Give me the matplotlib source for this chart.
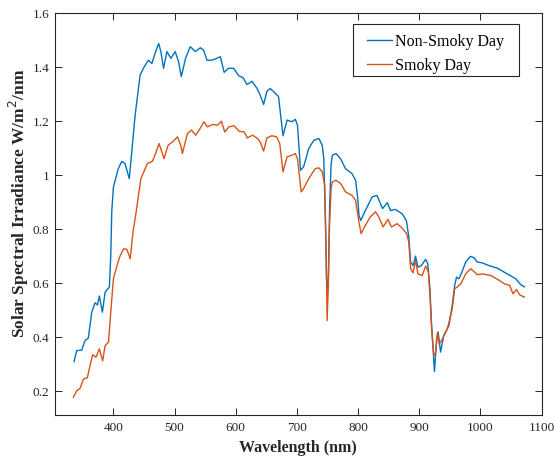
import matplotlib
matplotlib.use('Agg')
from matplotlib import pyplot as plt
from matplotlib.patches import Rectangle

# Non-smoky day
wl_clear = [335.6, 340, 348, 353.6, 359, 364.6, 370, 374, 377, 382, 386.4, 393.4, 395.7, 397.3,
            400, 408, 413.7, 419, 426, 430, 435.5, 443.7, 449, 457, 463, 468, 474, 477.6, 482,
            487.5, 494, 501, 506.5, 511, 518, 525.6, 534, 542, 547.4, 553, 561, 569, 575, 581,
            588, 596.5, 604.7, 612, 618.4, 626.6, 635, 640, 645.6, 651, 656.6, 665, 670, 677.3,
            684, 692, 697.5, 701, 706, 711, 719.4, 727.7, 736, 741.5, 744, 746.5, 748.5, 750,
            751.5, 753.5, 756, 758, 764, 771.5, 779.5, 790, 796, 799.6, 801.5, 804.5, 812, 823,
            831, 840, 848, 853, 861, 872, 879, 883, 886, 890, 894, 898, 903.6, 910.6, 914,
            917.6, 920, 923, 925, 928.5, 931, 935, 940, 948.6, 954, 958, 961, 965, 970, 976,
            984, 989.6, 995, 1003, 1014, 1028, 1044, 1058, 1066, 1072]
irr_clear = [0.308, 0.349, 0.35, 0.386, 0.395, 0.491, 0.526, 0.518, 0.551, 0.491, 0.565, 0.584,
             0.701, 0.863, 0.955, 1.023, 1.05, 1.042, 0.986, 1.085, 1.221, 1.37, 1.395, 1.425,
             1.413, 1.45, 1.487, 1.457, 1.395, 1.457, 1.432, 1.457, 1.42, 1.364, 1.432, 1.475,
             1.457, 1.471, 1.463, 1.425, 1.425, 1.432, 1.438, 1.38, 1.395, 1.395, 1.368, 1.36,
             1.335, 1.347, 1.32, 1.296, 1.261, 1.31, 1.32, 1.302, 1.29, 1.145, 1.203, 1.197,
             1.206, 1.184, 1.017, 1.03, 1.098, 1.128, 1.135, 1.11, 1.06, 0.85, 0.62, 0.55, 0.62,
             0.88, 1.04, 1.073, 1.079, 1.06, 1.023, 1.005, 0.98, 0.912, 0.85, 0.831, 0.868,
             0.918, 0.924, 0.875, 0.897, 0.868, 0.872, 0.856, 0.831, 0.77, 0.677, 0.664, 0.699,
             0.658, 0.664, 0.687, 0.671, 0.578, 0.454, 0.343, 0.271, 0.392, 0.417, 0.343, 0.404,
             0.441, 0.516, 0.59, 0.621, 0.615, 0.64, 0.677, 0.698, 0.693, 0.677, 0.674, 0.664,
             0.654, 0.633, 0.615, 0.593, 0.585]

# Smoky day
wl_smoky = [334.5, 340, 345.5, 351, 357.4, 361.8, 366, 371.5, 377, 382.5, 386.4, 392, 395.7,
            400, 404.5, 410, 416.6, 422, 427.5, 432, 437.2, 441, 445, 455.5, 463.7, 469, 474.5,
            478.4, 482.7, 489.4, 496.6, 504.8, 510, 512.8, 521, 527.7, 534.6, 541.8, 548, 553.8,
            562, 570, 576.7, 582, 589, 597.3, 605.5, 613.8, 619, 627.6, 635.7, 640, 645.6, 651,
            659, 667, 672, 677.3, 684, 692, 697.5, 701, 707, 711, 719.4, 730, 736, 741.5, 745.5,
            747.5, 749.5, 751.5, 753.5, 756, 758, 764, 771.5, 779.5, 790, 796, 801.5, 805, 812,
            820, 828.6, 834, 841, 849, 854.6, 864, 872, 879.5, 883, 886, 890, 894, 898, 905,
            910.6, 915, 917.6, 920, 924, 927, 930, 932.6, 938, 946, 954, 958, 962, 968, 976,
            984, 989.6, 995, 1003, 1017, 1031, 1039.5, 1048, 1053.5, 1059, 1064.6, 1072]
irr_smoky = [0.176, 0.2, 0.209, 0.243, 0.248, 0.293, 0.333, 0.324, 0.355, 0.311, 0.367, 0.38,
             0.491, 0.615, 0.652, 0.695, 0.726, 0.724, 0.689, 0.788, 0.863, 0.924, 0.986, 1.042,
             1.05, 1.079, 1.116, 1.091, 1.06, 1.11, 1.122, 1.141, 1.11, 1.079, 1.153, 1.166,
             1.147, 1.172, 1.197, 1.178, 1.187, 1.184, 1.199, 1.159, 1.178, 1.182, 1.162, 1.159,
             1.137, 1.147, 1.135, 1.122, 1.088, 1.137, 1.145, 1.141, 1.116, 1.011, 1.067, 1.073,
             1.079, 1.06, 0.937, 0.949, 0.986, 1.023, 1.026, 1.011, 0.961, 0.75, 0.46, 0.6, 0.82,
             0.95, 0.974, 0.98, 0.968, 0.937, 0.924, 0.906, 0.825, 0.782, 0.813, 0.844, 0.863,
             0.844, 0.807, 0.835, 0.807, 0.819, 0.803, 0.782, 0.751, 0.652, 0.637, 0.683, 0.633,
             0.627, 0.662, 0.64, 0.553, 0.441, 0.33, 0.343, 0.417, 0.373, 0.392, 0.429, 0.503,
             0.578, 0.584, 0.596, 0.633, 0.652, 0.642, 0.63, 0.633, 0.627, 0.609, 0.596, 0.59,
             0.559, 0.575, 0.555, 0.547]

x_ticks = [400, 500, 600, 700, 800, 900, 1000, 1100]
y_ticks = [0.2, 0.4, 0.6, 0.8, 1.0, 1.2, 1.4, 1.6]
y_labels = ['0.2', '0.4', '0.6', '0.8', '1', '1.2', '1.4', '1.6']

plt.rcParams['font.family'] = 'Liberation Serif'
dark = '#262626'
W, H = 555, 460

fig = plt.figure(figsize=(5.55, 4.6), dpi=100)
ax = fig.add_axes([55 / W, 44 / H, 486.5 / W, 402 / H])

ax.plot(wl_clear, irr_clear, color='#0072BD', lw=1.0, label='Non-Smoky Day')
ax.plot(wl_smoky, irr_smoky, color='#D95319', lw=1.0, label='Smoky Day')

ax.set_xlim(304.5, 1100)
ax.set_ylim(0.11, 1.6)
ax.set_xticks(x_ticks)
ax.set_yticks(y_ticks)
ax.set_yticklabels(y_labels)
ax.tick_params(direction='in', top=True, right=True, length=5, width=0.7,
               labelsize=9.5, colors=dark, pad=4)
for s in ax.spines.values():
    s.set_color(dark)
    s.set_linewidth(0.8)

ax.set_xlabel('Wavelength (nm)', fontsize=11.5, fontweight='bold', color=dark, labelpad=5)
ax.set_ylabel('Solar Spectral Irradiance W/m$^2$/nm', fontsize=12.5, fontweight='bold',
              color=dark)
ax.yaxis.set_label_coords(-0.05, 0.529)

# legend box drawn separately so its padding can match
box = Rectangle((353 / W, 1 - 77 / H), 166 / W, 52 / H, transform=fig.transFigure,
                facecolor='white', edgecolor=dark, lw=0.8, zorder=4)
ax.add_patch(box)
leg = ax.legend(loc='upper left', bbox_to_anchor=((367 - 6.4) / W, 1 - 28 / H),
                bbox_transform=fig.transFigure, borderaxespad=0, frameon=False,
                fontsize=11.5, handlelength=1.56, handletextpad=0.2, labelspacing=0.5,
                borderpad=0.4)
leg.set_zorder(5)

fig.savefig('out.png', dpi=100)
